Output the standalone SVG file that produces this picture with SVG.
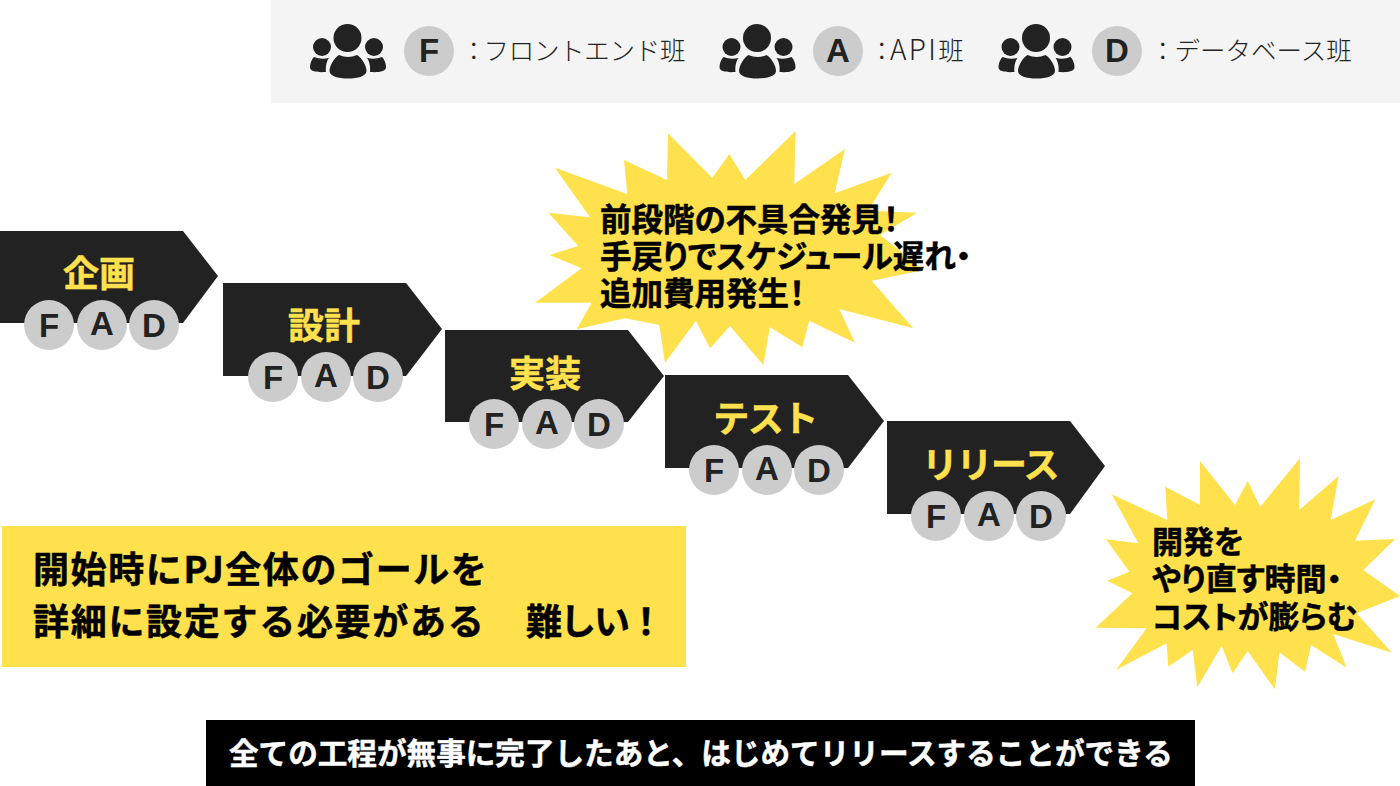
<svg xmlns="http://www.w3.org/2000/svg" xmlns:xlink="http://www.w3.org/1999/xlink" width="1400" height="786" viewBox="0 0 1400 786">
<style>
.cjk{font-family:"Noto Sans CJK JP","Liberation Sans",sans-serif}
.b{font-weight:700;stroke-width:.5px}
.lg{font-size:25.500px;font-weight:300;fill:#222}
.t{font-size:36px;font-weight:700;fill:#ffe14d;stroke:#ffe14d;stroke-width:.5px;text-anchor:middle}
.k{font-size:31.500px;font-weight:700;fill:#000;stroke:#000;stroke-width:.5px;font-feature-settings:"palt"}
.c{fill:#ccc}
.l{font-family:"Liberation Sans",sans-serif;font-weight:700;font-size:33px;fill:#222;text-anchor:middle}
.s{fill:#ffe14d}
.a{fill:#222}
</style>
<defs>
<g id="people" fill="#222">
<circle cx="347.500" cy="38" r="14"/>
<circle cx="322" cy="47" r="9"/>
<circle cx="374" cy="47" r="9"/>
<path d="M339 55Q348 59 357 55C362 58 366.500 66 366.500 71C366.500 76 358 78.500 348 78.500C338 78.500 329.500 76 329.500 71C329.500 66 334 58 339 55Z"/>
<path d="M314 57Q321 60 329 58C326 62 325.500 68 326 72C318 72.500 310 72 310 67C310 63 312 59 314 57Z"/>
<path d="M382 57Q375 60 367 58C370 62 370.500 68 370 72C378 72.500 386 72 386 67C386 63 384 59 382 57Z"/>
</g>
<g id="fad">
<circle class="c" cx="-51" cy="0" r="25"/><text class="l" x="-51" y="12">F</text>
<circle class="c" cx="2" cy="0" r="25"/><text class="l" x="2" y="10">A</text>
<circle class="c" cx="54" cy="0" r="25"/><text class="l" x="54" y="12">D</text>
</g>
</defs>
<g id="legend">
<rect x="271" y="0" width="1129" height="103" fill="#f4f4f4"/>
<use xlink:href="#people" href="#people"/>
<use xlink:href="#people" href="#people" x="409.500"/>
<use xlink:href="#people" href="#people" x="688.500"/>
<circle class="c" cx="429" cy="51" r="25"/><text class="l" x="429" y="62">F</text>
<circle class="c" cx="838" cy="51" r="25"/><text class="l" x="838" y="62">A</text>
<circle class="c" cx="1117" cy="51" r="25"/><text class="l" x="1117" y="62">D</text>
<text class="cjk lg" x="461" y="60">：<tspan dx="-3" letter-spacing="-.3">フロントエンド班</tspan></text>
<text class="cjk lg" x="869" y="60">：<tspan dx="-4.500" font-size="28" letter-spacing="2.300">API</tspan><tspan>班</tspan></text>
<text class="cjk lg" x="1150" y="60">：<tspan dx="-1">データベース班</tspan></text>
</g>
<g id="burst-1">
<polygon class="s" transform="translate(520 120) scale(.3333)" points="105,143 322,222 312,120 441,180 444,40 577,173 628,102 676,180 827,33 823,192 975,87 944,220 1115,158 1045,272 1192,278 1080,345 1212,450 1055,482 1180,625 958,567 1005,668 868,602 847,682 750,622 730,735 630,618 570,685 528,603 435,728 418,615 315,595 170,628 215,548 45,548 185,445 88,405 175,378 85,278 210,292"/>
<text class="cjk k" x="600" y="231">前段階の不具合発見！</text>
<text class="cjk k" x="600" y="268">手戻りでスケジュール遅れ・</text>
<text class="cjk k" x="600" y="305">追加費用発生！</text>
</g>
<g id="burst-2">
<polygon class="s" transform="translate(1090 450) scale(.3333)" points="65,133 232,210 226,110 330,165 330,33 435,165 473,93 511,170 630,25 628,180 746,78 722,210 856,148 795,272 916,267 820,360 930,438 800,490 906,608 730,552 770,653 663,585 645,665 568,607 555,718 473,603 428,670 395,588 322,712 308,600 235,650 230,580 78,660 170,535 17,533 127,430 52,392 118,365 48,268 145,280"/>
<text class="cjk k" x="1152" y="553" style="font-size:31px">開発を</text>
<text class="cjk k" x="1152" y="590" style="font-size:31px">やり直す時間・</text>
<text class="cjk k" x="1152" y="628" style="font-size:31px">コストが膨らむ</text>
</g>
<g id="step-1">
<polygon class="a" points="0,231 183,231 218,276 183,323 0,323"/>
<text class="cjk t" x="99" y="287">企画</text>
<use xlink:href="#fad" href="#fad" x="100" y="325"/>
</g>
<g id="step-2">
<polygon class="a" points="223,283 406,283 442,329 406,376 223,376"/>
<text class="cjk t" x="324" y="339">設計</text>
<use xlink:href="#fad" href="#fad" x="324" y="377"/>
</g>
<g id="step-3">
<polygon class="a" points="445,330 628,330 664,376 628,422 445,422"/>
<text class="cjk t" x="545" y="387">実装</text>
<use xlink:href="#fad" href="#fad" x="545" y="424"/>
</g>
<g id="step-4">
<polygon class="a" points="665,375 848,375 884,421 848,468 665,468"/>
<text class="cjk t" x="765" y="432" letter-spacing="-1.500">テスト</text>
<use xlink:href="#fad" href="#fad" x="765" y="470"/>
</g>
<g id="step-5">
<polygon class="a" points="887,421 1070,421 1105,466 1070,514 887,514"/>
<text class="cjk t" x="990" y="478" letter-spacing="-1.500">リリース</text>
<use xlink:href="#fad" href="#fad" x="987" y="516"/>
</g>
<g id="note">
<rect x="2" y="526" width="684" height="141" fill="#ffe14d"/>
<text class="cjk b" x="33" y="583" font-size="36" letter-spacing="1.600" stroke="#000">開始時にPJ全体のゴールを</text>
<text class="cjk b" x="33" y="635" font-size="36" letter-spacing="1.700" stroke="#000">詳細に設定する必要がある　<tspan x="526" letter-spacing="-2">難しい！</tspan></text>
</g>
<g id="footer">
<rect x="206" y="720" width="989" height="66" fill="#000"/>
<text class="cjk b" x="229" y="764" font-size="29.600" fill="#fff" stroke="#fff">全ての工程が無事に完了したあと、はじめてリリースすることができる</text>
</g>
<g id="connectors"/>
</svg>
